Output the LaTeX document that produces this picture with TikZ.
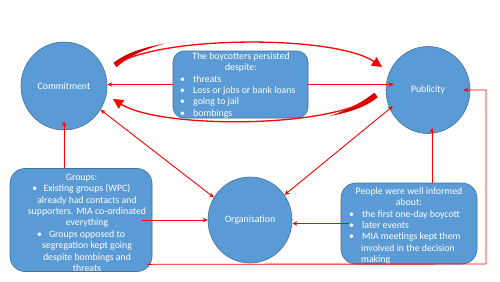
\documentclass[tikz,border=0pt]{standalone}
\usepackage{fontspec}
\setmainfont{Carlito}
\usetikzlibrary{shapes.geometric,arrows.meta,calc}
\definecolor{bfill}{HTML}{5B9BD5}
\definecolor{bline}{HTML}{41719C}
\definecolor{rd}{HTML}{FF0000}
\definecolor{drd}{HTML}{D00000}
\newcommand\myfs{\fontsize{9.8}{11.35}\selectfont}
\newcommand\bul{\makebox[13pt][l]{\textbullet}}
\begin{document}
\begin{tikzpicture}[x=1pt,y=-1pt,
 bub/.style={ellipse, fill=bfill, draw=bline, line width=0.6pt, inner sep=0pt, text=white, font=\myfs},
 rbox/.style={rectangle, fill=bfill, draw=bline, line width=0.6pt, inner sep=0pt},
 txt/.style={text=white, font=\myfs, inner sep=0pt},
 arr/.style={draw=rd, line width=0.9pt, -{Stealth[length=5pt,width=4.5pt]}},
 darr/.style={draw=rd, line width=0.9pt, {Stealth[length=5pt,width=4.5pt]}-{Stealth[length=5pt,width=4.5pt]}},
 curvearr/.style={draw=rd, line width=1.3pt, -{Triangle[length=10pt,width=10pt]}}]
\fill[white] (0,0) rectangle (500,281);
\path[use as bounding box] (0,0) rectangle (500,281);

% bubbles
\node[bub, minimum width=86pt, minimum height=88pt] (com) at (64,86) {Commitment};
\node[bub, minimum width=84pt, minimum height=87pt] (pub) at (428,90) {Publicity};
\node[bub, minimum width=84pt, minimum height=86pt] (org) at (250,220) {Organisation};

% boxes
\node[rbox, rounded corners=11pt, minimum width=135pt, minimum height=67pt] (top) at (240.5,84.5) {};
\node[rbox, rounded corners=15pt, minimum width=142pt, minimum height=103pt] (grp) at (81,220) {};
\node[rbox, rounded corners=15pt, minimum width=136pt, minimum height=81pt] (ppl) at (409,223.5) {};

% box texts
\node[txt, align=center, anchor=north] (toph) at (241,52) {The boycotters persisted\\despite:};
\node[txt, align=left, anchor=north west] (topl) at (180,75) {\bul threats\\\bul Loss or jobs or bank loans\\\bul going to jail\\\bul bombings};
\node[txt, align=center, anchor=north] (grpt) at (87,174) {Groups:\kern11pt\\
\llap{\textbullet\hspace{6.5pt}}Existing groups (WPC)\\
already had contacts and\\
supporters. MIA co-ordinated\\
everything\\
\llap{\textbullet\hspace{7pt}}Groups opposed to\\
segregation kept going\\
despite bombings and\\
threats};
\node[txt, align=center, anchor=north] (pplh) at (409,187) {People were well informed\\about:};
\node[txt, align=left, anchor=north west] (ppll) at (349,210) {\bul the first one-day boycott\\\bul later events\\\bul MIA meetings kept them\\\hspace*{12pt}involved in the decision\\\hspace*{12pt}making};

% straight connectors
\draw[arr, shorten >=-9pt] (grp.north -| com.south) -- (com.south);
\draw[arr] ($(grp.east)+(-10,0)$) -- (org.west);
\draw[darr] (com.-33) -- (org.148);
\draw[darr, shorten <=-4pt] (pub.206) -- (org.36);
\draw[arr] (top.west) -- (top.west -| com.east);
\draw[arr, shorten >=-8pt] (top.east) -- (top.east -| pub.west);
\draw[arr, shorten >=-6pt] ($(ppl.north)+(23,0)$) -- ($(pub.south)+(4,0)$);
\draw[arr] ($(ppl.west)+(8,0)$) -- (org.east |- ppl.west);
\coordinate (lp) at (486,264);
\draw[arr, shorten >=-7pt] ($(grp.south east)+(-5,-7.5)$) -- (lp) -- (lp |- pub.east) -- (pub.east);

% curved block arrows
\coordinate (t1) at (115,65);
\coordinate (h1) at (382,67);
\fill[drd] (113.5,62.8) .. controls (125,54) and (140,48) .. (165,43.5) .. controls (142,50) and (128,57) .. (116.5,67.2) -- cycle;
\draw[curvearr] (t1) .. controls (160,35) and (335,35) .. (h1);
\coordinate (t2) at (376,95);
\coordinate (h2) at (113,99);
\fill[drd] (377.8,97.2) .. controls (367,106) and (352,112) .. (330,116) .. controls (350,109) and (364,101) .. (374.2,92.8) -- cycle;
\draw[curvearr] (t2) .. controls (335,129) and (160,129) .. (h2);
\end{tikzpicture}
\end{document}
